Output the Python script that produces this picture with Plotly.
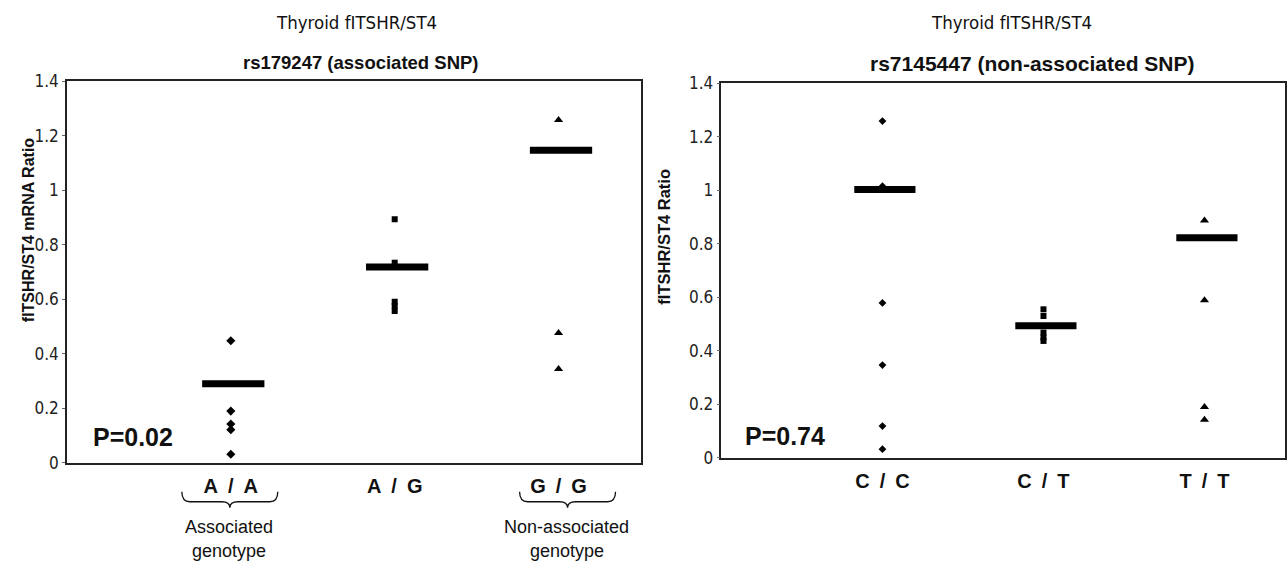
import plotly.graph_objects as go

# ---------------- data ----------------
left_categories = ["A\u2002/\u2002A", "A\u2002/\u2002G", "G\u2002/\u2002G"]
left_aa = [0.448, 0.190, 0.143, 0.122, 0.032]
left_ag = [0.893, 0.734, 0.591, 0.575, 0.557]
left_gg = [1.257, 0.476, 0.344]
left_means = [0.290, 0.718, 1.146]

right_categories = ["C\u2002/\u2002C", "C\u2002/\u2002T", "T\u2002/\u2002T"]
right_cc = [1.258, 1.015, 0.579, 0.347, 0.119, 0.033]
right_ct = [0.555, 0.530, 0.468, 0.450, 0.437]
right_tt = [0.887, 0.589, 0.190, 0.143]
right_means = [1.002, 0.494, 0.822]

y_ticks = [0, 0.2, 0.4, 0.6, 0.8, 1.0, 1.2, 1.4]

W, H = 1287, 568
NARROW = "Liberation Sans Narrow, Arial Narrow, DejaVu Sans Condensed, Liberation Sans, Arial, sans-serif"
SANS = "Liberation Sans, Arial, sans-serif"


def px(x):
    return x / W


def py(y):
    # target pixel row -> paper fraction (empirical vertical correction)
    yi = (y - 7.6) / 0.97
    return 1 - yi / H


fig = go.Figure()

marker_syms = ["diamond", "square", "triangle-up"]


def add_panel(groups, means, xa, ya, sizes):
    for i, vals in enumerate(groups):
        fig.add_trace(go.Scatter(
            x=[i + 1] * len(vals), y=vals, mode="markers",
            marker=dict(symbol=marker_syms[i], size=sizes[i], color="black",
                        line=dict(width=0)),
            xaxis=xa, yaxis=ya, showlegend=False, hoverinfo="y"))
    for i, m in enumerate(means):
        fig.add_trace(go.Scatter(
            x=[i + 1 - 0.175, i + 1 + 0.205], y=[m, m], mode="lines",
            line=dict(color="black", width=7),
            xaxis=xa, yaxis=ya, showlegend=False, hoverinfo="y"))


add_panel([left_aa, left_ag, left_gg], left_means, "x", "y", [7, 6, 8])
add_panel([right_cc, right_ct, right_tt], right_means, "x2", "y2", [6, 6, 8])

axis_common = dict(showline=True, linecolor="#222", linewidth=1.5, mirror=True,
                   showgrid=False, zeroline=False)

xfont = dict(family=SANS, size=20, color="#111", weight="bold")
yfont = dict(family=NARROW, size=17, color="#222")

fig.update_layout(
    width=W, height=H,
    margin=dict(l=0, r=0, t=0, b=0),
    paper_bgcolor="white", plot_bgcolor="white",
    xaxis=dict(domain=[px(67), px(641)], range=[0, 3.5], tickvals=[1, 2, 3],
               ticktext=left_categories, ticks="", ticklabelstandoff=4,
               tickfont=xfont, **axis_common),
    yaxis=dict(domain=[py(463), py(79)], range=[0, 1.4], tickvals=y_ticks,
               ticks="outside", ticklen=3, tickcolor="#666",
               tickfont=yfont, **axis_common),
    xaxis2=dict(domain=[px(722), px(1286)], range=[0, 3.5], tickvals=[1, 2, 3],
                ticktext=right_categories, ticks="", anchor="y2",
                ticklabelstandoff=4, tickfont=xfont, **axis_common),
    yaxis2=dict(domain=[py(458), py(81)], range=[0, 1.4], tickvals=y_ticks,
                ticks="outside", ticklen=3, tickcolor="#666", anchor="x2",
                tickfont=yfont, **axis_common),
)

ann = []


def text(x, y, s, size, family=SANS, bold=False, xanchor="center", angle=0):
    ann.append(dict(x=px(x), y=py(y), xref="paper", yref="paper", text=s,
                    showarrow=False, xanchor=xanchor, yanchor="middle",
                    textangle=angle,
                    font=dict(family=family, size=size, color="#111",
                              weight="bold" if bold else "normal")))


text(357, 20, "Thyroid fITSHR/ST4", 18.5, NARROW)
text(361, 60, "rs179247 (associated SNP)", 18.5, SANS, bold=True)
text(1012, 20, "Thyroid fITSHR/ST4", 18.5, NARROW)
text(1033, 61, "rs7145447 (non-associated SNP)", 21, SANS, bold=True)
text(91, 437, "P=0.02", 25, SANS, bold=True, xanchor="left")
text(744, 436, "P=0.74", 25, SANS, bold=True, xanchor="left")
text(28, 228, "fITSHR/ST4 mRNA Ratio", 16, SANS, bold=True, angle=-90)
text(665, 235, "fITSHR/ST4 Ratio", 16.5, SANS, bold=True, angle=-90)
text(229, 527, "Associated", 18)
text(229, 552, "genotype", 18)
text(567, 527, "Non-associated", 18)
text(567, 552, "genotype", 18)
fig.update_layout(annotations=ann)


def brace(cx, half, ytop, ymid, ytip, r=8):
    pts = [
        f"M {px(cx-half)},{py(ytop)}",
        f"Q {px(cx-half)},{py(ymid)} {px(cx-half+r)},{py(ymid)}",
        f"L {px(cx-r)},{py(ymid)}",
        f"Q {px(cx)},{py(ymid)} {px(cx)},{py(ytip)}",
        f"Q {px(cx)},{py(ymid)} {px(cx+r)},{py(ymid)}",
        f"L {px(cx+half-r)},{py(ymid)}",
        f"Q {px(cx+half)},{py(ymid)} {px(cx+half)},{py(ytop)}",
    ]
    return dict(type="path", xref="paper", yref="paper", path=" ".join(pts),
                line=dict(color="#111", width=1.3))


fig.update_layout(shapes=[brace(230, 48, 492, 502, 508),
                          brace(568, 48, 492, 502, 508)])

fig.write_html("out.html", config={"displayModeBar": False},
               post_script="document.body.style.margin='0';document.body.style.overflow='hidden';")
